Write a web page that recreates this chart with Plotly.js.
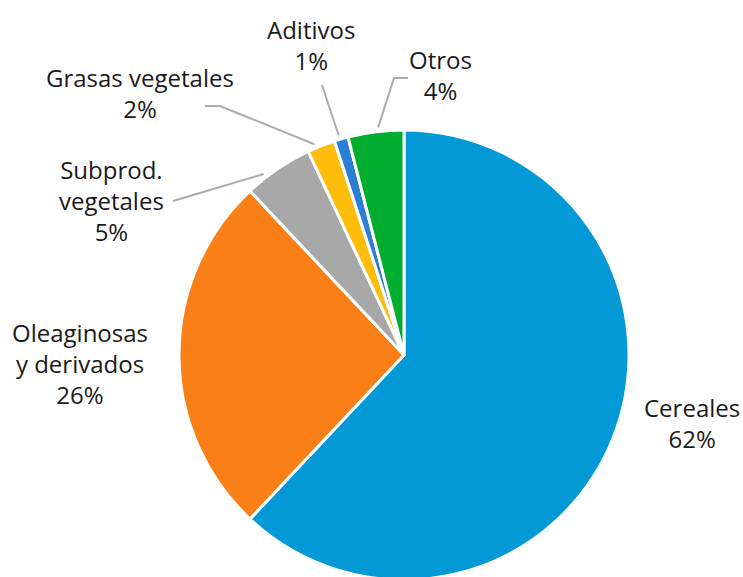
<!DOCTYPE html>
<html>
<head>
<meta charset="UTF-8">
<script src="https://cdn.plot.ly/plotly-3.0.1.min.js"></script>
<style>
	html, body { margin: 0; padding: 0; overflow: hidden; background: #ffffff; }
	#plot { width: 743px; height: 600px; }
</style>
</head>
<body>
<div id="plot"></div>
<script>
	// data
	var labels = ['Cereales', 'Oleaginosas y derivados', 'Subprod. vegetales', 'Grasas vegetales', 'Aditivos', 'Otros'];
	var values = [62, 26, 5, 2, 1, 4];
	var labelText = ['Cereales<br>62%', 'Oleaginosas<br>y derivados<br>26%', 'Subprod.<br>vegetales<br>5%', 'Grasas vegetales<br>2%', 'Aditivos<br>1%', 'Otros<br>4%'];
	var colors = ['#0399d6', '#fa7f17', '#a8a8a8', '#fdbd0a', '#2a7fd4', '#00ad2e'];

	var W = 743, H = 600;
	// pie geometry in pixels (centre and radius)
	var cx = 404, cy = 355, R = 225;

	function px(x) { return x / W; }
	function py(y) { return 1 - y / H; }

	// point on the rim of slice i, "f" = how far along the slice (0..1)
	function rim(i, f, rr)
	{
		var total = 0, before = 0;
		for(var k = 0; k < values.length; k++) total += values[k];
		for(var k = 0; k < i; k++) before += values[k];
		var ang = (before + values[i] * f) / total * 2 * Math.PI;
		return [cx + rr * Math.sin(ang), cy - rr * Math.cos(ang)];
	}

	// label block centres
	var labelPos = [[692, 423], [80, 363], [111, 201], [140, 93], [311, 45], [440, 75]];

	var data = [{
		type: 'pie',
		labels: labels,
		values: values,
		sort: false,
		direction: 'clockwise',
		rotation: 0,
		textinfo: 'none',
		hoverinfo: 'label+percent',
		marker: { colors: colors, line: { color: '#ffffff', width: 3 } },
		domain: { x: [px(cx - R), px(cx + R)], y: [py(cy + R), py(cy - R)] },
		showlegend: false
	}];

	var annotations = [];
	for(var i = 0; i < labels.length; i++)
	{
		annotations.push({
			xref: 'paper', yref: 'paper',
			x: px(labelPos[i][0]), y: py(labelPos[i][1]),
			xanchor: 'center', yanchor: 'middle',
			text: labelText[i],
			showarrow: false,
			align: 'center',
			font: { family: 'Open Sans', size: 24, color: '#1a1a1a' }
		});
	}

	// leader lines for the small slices
	function leader(pts, i, f)
	{
		var e = rim(i, f, 229);
		var d = '';
		for(var k = 0; k < pts.length; k++)
		{
			d += (k == 0 ? 'M ' : ' L ') + px(pts[k][0]) + ' ' + py(pts[k][1]);
		}
		d += ' L ' + px(e[0]) + ' ' + py(e[1]);
		return { type: 'path', xref: 'paper', yref: 'paper', path: d, line: { color: '#ababab', width: 2 } };
	}
	var shapes = [
		leader([[173, 201]], 2, 0.3),
		leader([[205, 106], [220, 106]], 3, 0.3),
		leader([[322, 85]], 4, 0.4),
		leader([[408, 78], [394, 78]], 5, 0.55)
	];

	var layout = {
		width: W,
		height: H,
		margin: { l: 0, r: 0, t: 0, b: 0 },
		paper_bgcolor: '#ffffff',
		showlegend: false,
		annotations: annotations,
		shapes: shapes
	};

	Plotly.newPlot('plot', data, layout, { displayModeBar: false, staticPlot: true });
</script>
</body>
</html>
